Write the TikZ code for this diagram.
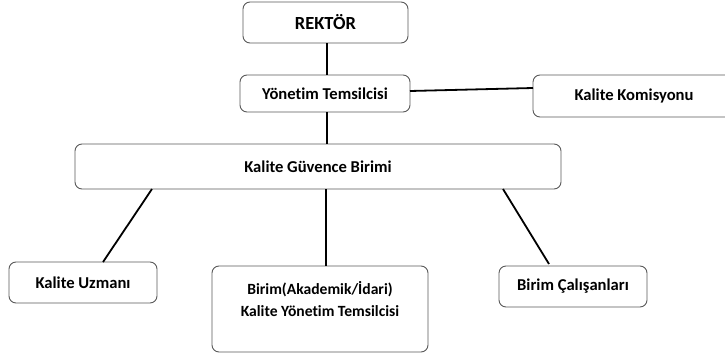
\documentclass[tikz,border=0pt]{standalone}
\usepackage{fontspec}
\setmainfont[Ligatures={NoCommon}]{Carlito}
\begin{document}
\begin{tikzpicture}[x=1pt,y=-1pt,
  box/.style={draw=black!65, line width=0.9pt, rounded corners=7pt, fill=white, inner sep=0pt, font=\bfseries\fontsize{16.6}{19}\selectfont, align=center},
  conn/.style={draw=black, line width=1.8pt}]
\useasboundingbox (0,0) rectangle (725,356);
% boxes (corner coordinates in pixels)
\node[box, minimum width=165pt, minimum height=41pt, font=\bfseries\fontsize{18.5}{21}\selectfont] (rek) at (325.5,22.5) {REKTÖR};
\node[box, minimum width=170pt, minimum height=37pt] (yon) at (325,93.5) {Yönetim Temsilcisi};
\node[box, minimum width=202pt, minimum height=42pt] (kom) at (634,96) {Kalite Komisyonu};
\node[box, minimum width=486pt, minimum height=45pt] (kgb) at (318,166.5) {Kalite Güvence Birimi};
\node[box, minimum width=148pt, minimum height=41pt] (uzm) at (83,282.5) {Kalite Uzmanı};
\node[box, minimum width=216pt, minimum height=86pt, text depth=0pt] (bir) at (320,309) {};
\node[font=\bfseries\fontsize{15.6}{22}\selectfont, align=center, anchor=north] (birt) at (bir.north) [yshift=-12pt] {Birim(Akademik/İdari)\\Kalite Yönetim Temsilcisi};
\node[box, minimum width=148pt, minimum height=41pt] (cal) at (573,286.5) {Birim Çalışanları};
% connectors
\coordinate (c1) at (327,43);
\draw[conn] (rek.south -| c1) -- (yon.north -| c1);
\draw[conn] (yon.south -| c1) -- (kgb.north -| c1);
\coordinate (h1) at (410,91);
\coordinate (h2) at (533,88);
\draw[conn] (h1) -- (h2);
\coordinate (d1) at (152,189);
\coordinate (d2) at (103,262);
\draw[conn] (d1) -- (d2);
\coordinate (e1) at (503,189);
\coordinate (e2) at (549,264);
\draw[conn] (e1) -- (e2);
\coordinate (m1) at (326,189);
\draw[conn] (m1) -- (m1 |- bir.north);
\end{tikzpicture}
\end{document}
